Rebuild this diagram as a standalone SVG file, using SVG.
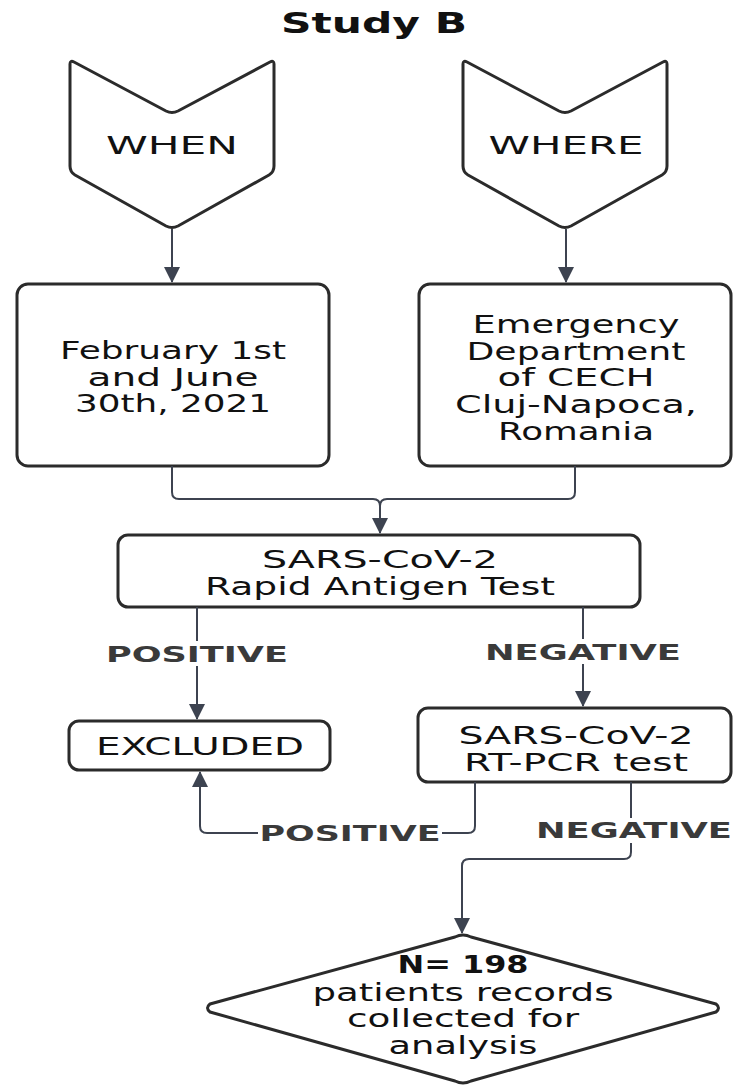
<svg xmlns="http://www.w3.org/2000/svg" width="742" height="1090" viewBox="0 0 742 1090">
<defs>
<marker id="ah" markerWidth="16" markerHeight="18" refX="15" refY="8" orient="auto" markerUnits="userSpaceOnUse" viewBox="0 0 16 16"><path d="M0,0 L16,8 L0,16 z" fill="#3d4350"/></marker>
</defs>
<style>
.n{fill:#fff;stroke:#2b2b2b;stroke-width:3;stroke-linejoin:round}
.t{font-family:"DejaVu Sans","Liberation Sans",sans-serif;font-size:24px;fill:#111;text-anchor:middle}
.l{font-family:"DejaVu Sans","Liberation Sans",sans-serif;font-size:21px;font-weight:bold;fill:#3a3a3a;text-anchor:middle}
.c{fill:none;stroke:#3d4350;stroke-width:2}
</style>
<rect width="742" height="1090" fill="#fff"/>
<text x="374" y="33" class="t" style="font-weight:bold;font-size:28px" textLength="186" lengthAdjust="spacingAndGlyphs">Study B</text>
<g id="when"><path class="n" d="M70,64 Q70,60 74,62 L166,111 Q172,114 178,111 L270,62 Q274,60 274,64 L274,166 Q274,172 269,175 L178,226 Q172,229 166,226 L75,175 Q70,172 70,166 Z"/><text x="172" y="154" class="t" textLength="132" lengthAdjust="spacingAndGlyphs">WHEN</text></g>
<g id="where"><path class="n" d="M463,64 Q463,60 467,62 L559,111 Q565,114 571,111 L663,62 Q667,60 667,64 L667,166 Q667,172 662,175 L571,226 Q565,229 559,226 L468,175 Q463,172 463,166 Z"/><text x="566" y="154" class="t" textLength="155" lengthAdjust="spacingAndGlyphs">WHERE</text></g>
<g id="dates"><rect class="n" x="17" y="284" width="312" height="182" rx="11"/>
<text class="t" x="173" y="359" textLength="226" lengthAdjust="spacingAndGlyphs">February 1st</text>
<text class="t" x="173" y="386" textLength="171" lengthAdjust="spacingAndGlyphs">and June</text>
<text class="t" x="173" y="412" textLength="196" lengthAdjust="spacingAndGlyphs">30th, 2021</text></g>
<g id="place"><rect class="n" x="419" y="284" width="312" height="182" rx="11"/>
<text class="t" x="576" y="333" textLength="207" lengthAdjust="spacingAndGlyphs">Emergency</text>
<text class="t" x="576" y="360" textLength="219" lengthAdjust="spacingAndGlyphs">Department</text>
<text class="t" x="576" y="386" textLength="157" lengthAdjust="spacingAndGlyphs">of CECH</text>
<text class="t" x="576" y="413" textLength="242" lengthAdjust="spacingAndGlyphs">Cluj-Napoca,</text>
<text class="t" x="576" y="440" textLength="156" lengthAdjust="spacingAndGlyphs">Romania</text></g>
<g id="rat"><rect class="n" x="118" y="535" width="522" height="72" rx="10"/>
<text class="t" x="380" y="568" textLength="236" lengthAdjust="spacingAndGlyphs">SARS-CoV-2</text>
<text class="t" x="380" y="595" textLength="350" lengthAdjust="spacingAndGlyphs">Rapid Antigen Test</text></g>
<g id="excluded"><rect class="n" x="69" y="721" width="261" height="49" rx="10"/><text class="t" x="200" y="755" textLength="208" lengthAdjust="spacingAndGlyphs">EXCLUDED</text></g>
<g id="pcr"><rect class="n" x="418" y="708" width="313" height="74" rx="10"/>
<text class="t" x="576" y="744" textLength="235" lengthAdjust="spacingAndGlyphs">SARS-CoV-2</text>
<text class="t" x="576" y="771" textLength="224" lengthAdjust="spacingAndGlyphs">RT-PCR test</text></g>
<g id="result"><path class="n" d="M455,937 Q463,933 471,937 L716,1004 Q721,1008 716,1012 L471,1081 Q463,1085 455,1081 L210,1012 Q205,1008 210,1004 Z"/>
<text class="t" x="463" y="973" style="font-weight:bold" textLength="131" lengthAdjust="spacingAndGlyphs">N= 198</text>
<text class="t" x="463" y="1001" textLength="301" lengthAdjust="spacingAndGlyphs">patients records</text>
<text class="t" x="463" y="1027" textLength="232" lengthAdjust="spacingAndGlyphs">collected for</text>
<text class="t" x="463" y="1054" textLength="149" lengthAdjust="spacingAndGlyphs">analysis</text></g>
<g id="connectors">
<path class="c" d="M172,229 V282" marker-end="url(#ah)"/>
<path class="c" d="M566,229 V282" marker-end="url(#ah)"/>
<path class="c" d="M172,466 V492 Q172,499 179,499 H373 Q380,499 380,506"/>
<path class="c" d="M575,466 V492 Q575,499 568,499 H387 Q380,499 380,506 V533" marker-end="url(#ah)"/>
<path class="c" d="M197,607 V641"/>
<path class="c" d="M197,666 V719" marker-end="url(#ah)"/>
<path class="c" d="M583,607 V639"/>
<path class="c" d="M583,664 V706" marker-end="url(#ah)"/>
<path class="c" d="M475,782 V826 Q475,833 468,833 H442"/>
<path class="c" d="M258,833 H207 Q200,833 200,826 V772" marker-end="url(#ah)"/>
<path class="c" d="M631,782 V818"/>
<path class="c" d="M631,843 V852 Q631,859 624,859 H469 Q462,859 462,866 V933" marker-end="url(#ah)"/>
<text class="l" x="197" y="662" textLength="182" lengthAdjust="spacingAndGlyphs">POSITIVE</text>
<text class="l" x="583" y="660" textLength="196" lengthAdjust="spacingAndGlyphs">NEGATIVE</text>
<text class="l" x="350" y="841" textLength="181" lengthAdjust="spacingAndGlyphs">POSITIVE</text>
<text class="l" x="634" y="838" textLength="196" lengthAdjust="spacingAndGlyphs">NEGATIVE</text>
</g>
</svg>
